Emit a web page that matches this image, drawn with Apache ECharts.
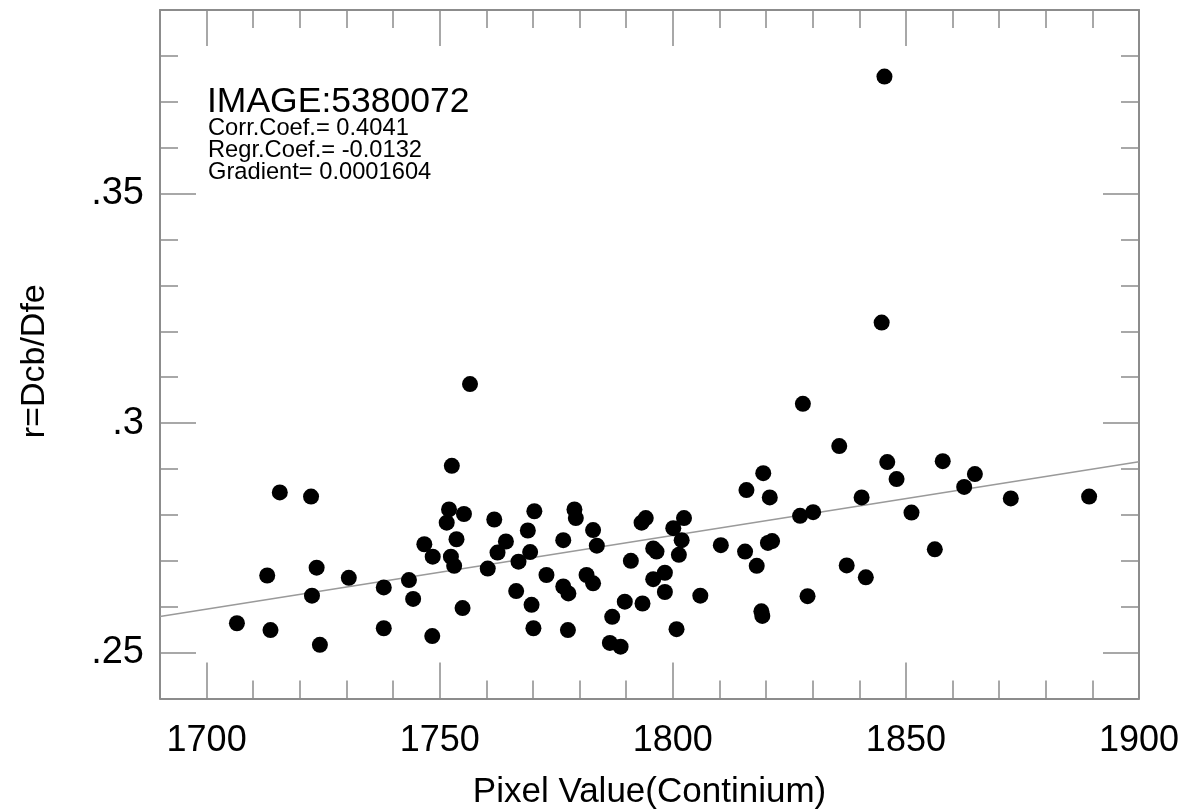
<!DOCTYPE html>
<html>
<head>
<meta charset="utf-8">
<title>r=Dcb/Dfe vs Pixel Value</title>
<script src="https://cdn.jsdelivr.net/npm/echarts@6/dist/echarts.min.js"></script>
<style>
  html, body { margin: 0; padding: 0; background: #fff; }
  #chart { width: 1184px; height: 810px; }
</style>
</head>
<body>
<div id="chart"></div>
<script>
// Continuum pixel value of each sample
const pixelValues = [
  1706.5, 1713.7, 1713.0, 1715.7, 1722.4, 1722.6, 1723.6, 1724.3, 1730.5, 1738.0,
  1738.0, 1743.4, 1744.3, 1748.4, 1746.7, 1748.5, 1752.0, 1751.5, 1755.2, 1752.6,
  1756.5, 1753.6, 1752.4, 1753.1, 1754.9, 1760.3, 1761.7, 1762.4, 1764.2, 1766.9,
  1766.4, 1768.9, 1769.4, 1770.3, 1769.7, 1770.1, 1772.9, 1776.5, 1776.5, 1777.6,
  1777.5, 1778.9, 1779.2, 1781.5, 1782.9, 1782.9, 1783.7, 1787.0, 1786.5, 1788.8,
  1789.7, 1791.0, 1793.5, 1793.3, 1794.2, 1795.8, 1796.5, 1795.8, 1798.3, 1798.3,
  1800.1, 1802.4, 1801.9, 1801.3, 1800.8, 1805.9, 1810.3, 1815.5, 1815.8, 1818.0,
  1819.0, 1819.2, 1819.4, 1820.8, 1820.4, 1821.3, 1827.3, 1830.1, 1827.9, 1828.9,
  1835.7, 1837.3, 1840.5, 1841.4, 1844.8, 1845.4, 1846.0, 1848.0, 1851.2, 1856.2,
  1857.9, 1862.5, 1864.8, 1872.5, 1889.3
];

// Ratio r = Dcb/Dfe of each sample
const ratioValues = [
  0.2564, 0.2549, 0.2668, 0.2849, 0.2840, 0.2624, 0.2685, 0.2517, 0.2663, 0.2642,
  0.2553, 0.2658, 0.2617, 0.2536, 0.2736, 0.2709, 0.2812, 0.2783, 0.2802, 0.2907,
  0.3085, 0.2747, 0.2709, 0.2689, 0.2597, 0.2683, 0.2790, 0.2718, 0.2742, 0.2698,
  0.2634, 0.2766, 0.2719, 0.2808, 0.2604, 0.2553, 0.2669, 0.2745, 0.2644, 0.2629,
  0.2549, 0.2812, 0.2793, 0.2669, 0.2651, 0.2767, 0.2733, 0.2578, 0.2521, 0.2513,
  0.2611, 0.2700, 0.2607, 0.2783, 0.2793, 0.2727, 0.2720, 0.2660, 0.2674, 0.2632,
  0.2771, 0.2793, 0.2745, 0.2713, 0.2551, 0.2624, 0.2734, 0.2720, 0.2854, 0.2689,
  0.2590, 0.2580, 0.2891, 0.2838, 0.2739, 0.2743, 0.2798, 0.2806, 0.3042, 0.2623,
  0.2950, 0.2690, 0.2838, 0.2664, 0.3219, 0.3755, 0.2915, 0.2878, 0.2805, 0.2725,
  0.2917, 0.2861, 0.2889, 0.2836, 0.2840
];

// Fit statistics printed on the plot
const imageId = '5380072';
const corrCoef = 0.4041;
const regrCoef = -0.0132;   // intercept of the fitted line
const gradient = 0.0001604; // slope of the fitted line

// Axis ranges and labelled ticks
const xRange = [1690, 1900];
const yRange = [0.24, 0.39];
const xMajorTicks = [1700, 1750, 1800, 1850, 1900];
const yMajorTicks = [0.25, 0.30, 0.35];

const points = pixelValues.map((x, i) => [x, ratioValues[i]]);
const fitLine = xRange.map(x => [x, regrCoef + gradient * x]);

const FONT = 'Liberation Sans, Arial, Helvetica, sans-serif';
const FRAME = '#8c8c8c';

function xAxisDef(position, major, withLabels) {
  return {
    type: 'value', position: position, min: xRange[0], max: xRange[1],
    interval: 10,
    axisLine: { show: !major, onZero: false, lineStyle: { color: FRAME, width: 2 } },
    axisTick: major
      ? { show: true, inside: true, length: 36, customValues: xMajorTicks, lineStyle: { color: FRAME, width: 1.5 } }
      : { show: true, inside: true, length: 18, lineStyle: { color: FRAME, width: 1.5 } },
    axisLabel: withLabels ? {
      show: true, margin: 25, color: '#000', fontFamily: FONT, fontSize: 36,
      formatter: v => (Math.round(v) % 50 === 0 ? String(Math.round(v)) : '')
    } : { show: false },
    splitLine: { show: false }
  };
}

function yAxisDef(position, major, withLabels) {
  return {
    type: 'value', position: position, min: yRange[0], max: yRange[1],
    interval: 0.01,
    axisLine: { show: !major, onZero: false, lineStyle: { color: FRAME, width: 2 } },
    axisTick: major
      ? { show: true, inside: true, length: 36, customValues: yMajorTicks, lineStyle: { color: FRAME, width: 1.5 } }
      : { show: true, inside: true, length: 18, lineStyle: { color: FRAME, width: 1.5 } },
    axisLabel: withLabels ? {
      show: true, margin: 16, color: '#000', fontFamily: FONT, fontSize: 38,
      formatter: v => {
        const h = Math.round(v * 100);
        if (h % 5 !== 0 || h < 25 || h > 35) return '';
        return String(h / 100).replace(/^0/, '');
      }
    } : { show: false },
    splitLine: { show: false }
  };
}

const chart = echarts.init(document.getElementById('chart'), null, { renderer: 'canvas' });

const xMain = xAxisDef('bottom', false, true);
xMain.name = 'Pixel Value(Continium)';
xMain.nameLocation = 'middle';
xMain.nameGap = 76;
xMain.nameTextStyle = { color: '#000', fontFamily: FONT, fontSize: 35 };

const yMain = yAxisDef('left', false, true);
yMain.name = 'r=Dcb/Dfe';
yMain.nameLocation = 'middle';
yMain.nameGap = 108;
yMain.nameTextStyle = { color: '#000', fontFamily: FONT, fontSize: 34, padding: [0, 14, 0, 0] };

chart.setOption({
  backgroundColor: '#fff',
  animation: false,
  grid: { left: 160, right: 45, top: 10, bottom: 111.5, containLabel: false, outerBoundsMode: 'none' },
  xAxis: [
    xMain,
    xAxisDef('bottom', true, false),
    xAxisDef('top', false, false),
    xAxisDef('top', true, false)
  ],
  yAxis: [
    yMain,
    yAxisDef('left', true, false),
    yAxisDef('right', false, false),
    yAxisDef('right', true, false)
  ],
  graphic: [
    {
      type: 'text', left: 207, top: 84, silent: true,
      style: { text: 'IMAGE:' + imageId, fill: '#000', font: '35.5px ' + FONT }
    },
    {
      type: 'text', left: 208, top: 116, silent: true,
      style: {
        text: 'Corr.Coef.= ' + corrCoef.toFixed(4) + '\n' +
              'Regr.Coef.= ' + regrCoef.toFixed(4) + '\n' +
              'Gradient= ' + gradient.toFixed(7),
        fill: '#000', font: '23.7px ' + FONT, lineHeight: 22
      }
    }
  ],
  series: [
    {
      type: 'line', xAxisIndex: 0, yAxisIndex: 0,
      data: fitLine, showSymbol: false, symbol: 'none',
      lineStyle: { color: '#9a9a9a', width: 1.5 }, z: 2
    },
    {
      type: 'scatter', xAxisIndex: 0, yAxisIndex: 0,
      data: points, symbol: 'circle', symbolSize: 16,
      itemStyle: { color: '#000', opacity: 1 }, z: 3
    }
  ]
});
</script>
</body>
</html>
